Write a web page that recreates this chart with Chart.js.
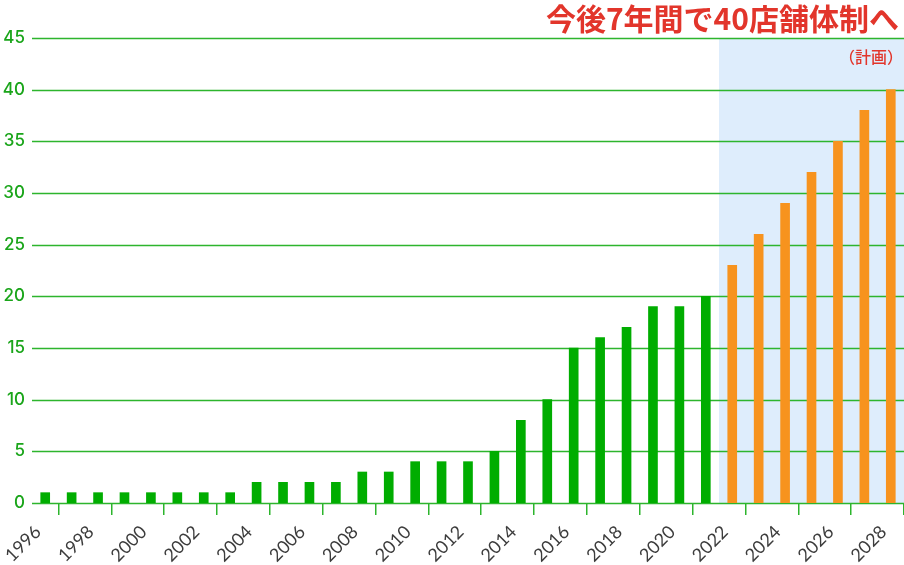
<!DOCTYPE html>
<html>
<head>
<meta charset="utf-8">
<script src="https://cdn.jsdelivr.net/npm/chart.js@4.4.0/dist/chart.umd.min.js"></script>
<style>
  html, body { margin: 0; padding: 0; background: #fff; }
  #wrap { width: 904px; height: 565px; position: relative; }
</style>
</head>
<body>
<div id="wrap"><canvas id="myChart"></canvas></div>
<script>
// 年 (実績・計画)
const years = [1996, 1997, 1998, 1999, 2000, 2001, 2002, 2003, 2004, 2005, 2006,
    2007, 2008, 2009, 2010, 2011, 2012, 2013, 2014, 2015, 2016, 2017, 2018,
    2019, 2020, 2021, 2022, 2023, 2024, 2025, 2026, 2027, 2028];
// 店舗数 実績 1996-2021
const actual = [1, 1, 1, 1, 1, 1, 1, 1, 2, 2, 2, 2, 3, 3, 4, 4, 4, 5, 8, 10,
    15, 16, 17, 19, 19, 20];
// 店舗数 計画 2022-2028
const plan = [23, 26, 29, 32, 35, 38, 40];

const yTicks = [0, 5, 10, 15, 20, 25, 30, 35, 40, 45];
const xTicks = [1996, 1998, 2000, 2002, 2004, 2006, 2008, 2010, 2012, 2014,
    2016, 2018, 2020, 2022, 2024, 2026, 2028];

const titleText = '今後7年間で40店舗体制へ';
const planText = '（計画）';
const planStart = 2022;

const green = '#00ad00';
const lineGreen = '#2db52d';
const orange = '#f7931e';
const red = '#e2352b';

const actualPts = actual.map(function (v, i) { return { x: years[i] + 0.5, y: v }; });
const planPts = plan.map(function (v, i) { return { x: years[actual.length + i] + 0.5, y: v }; });

const fondo = {
    id: 'fondo',
    beforeDatasetsDraw(chart) {
        const ctx = chart.ctx;
        const a = chart.chartArea;
        const x0 = chart.scales.x.getPixelForValue(planStart);
        ctx.save();
        ctx.fillStyle = '#deedfc';
        ctx.fillRect(x0, a.top, a.right - x0, a.bottom - a.top);
        ctx.restore();
    },
    afterDraw(chart) {
        const ctx = chart.ctx;
        const a = chart.chartArea;
        const x = chart.scales.x;
        ctx.save();
        ctx.fillStyle = red;
        ctx.textAlign = 'right';
        ctx.textBaseline = 'alphabetic';
        ctx.font = 'bold 30px "Noto Sans CJK JP"';
        ctx.fillText(titleText, 899, 30);
        ctx.font = '500 16px "Noto Sans CJK JP"';
        ctx.fillText(planText, 903, 63);
        ctx.restore();

        // 年のラベル (45度)
        ctx.save();
        ctx.fillStyle = '#3c3c3c';
        ctx.font = '18px Lato';
        ctx.textAlign = 'right';
        ctx.textBaseline = 'middle';
        xTicks.forEach(function (v) {
            const px = x.getPixelForValue(v);
            ctx.save();
            ctx.translate(px + 6, a.bottom + 26);
            ctx.rotate(-Math.PI / 4);
            ctx.fillText(String(v), 0, 0);
            ctx.restore();
        });
        ctx.restore();
    }
};

// grid の線は背景の上に描きたいので手動で
const grade = {
    id: 'grade',
    beforeDatasetsDraw(chart) {
        const ctx = chart.ctx;
        const a = chart.chartArea;
        const y = chart.scales.y;
        ctx.save();
        ctx.strokeStyle = lineGreen;
        ctx.lineWidth = 1.5;
        yTicks.forEach(function (t) {
            const py = Math.round(y.getPixelForValue(t)) + 0.5;
            ctx.beginPath();
            ctx.moveTo(a.left, py);
            ctx.lineTo(a.right, py);
            ctx.stroke();
        });
        ctx.restore();
    }
};

const data = {
    datasets: [{
        label: '実績',
        data: actualPts,
        backgroundColor: green,
        barThickness: 9,
        grouped: false
    }, {
        label: '計画',
        data: planPts,
        backgroundColor: orange,
        barThickness: 9,
        grouped: false
    }]
};

const config = {
    type: 'bar',
    data: data,
    options: {
        responsive: true,
        maintainAspectRatio: false,
        animation: false,
        layout: { padding: { top: 38, right: 0, left: 0, bottom: 0 } },
        plugins: {
            legend: { display: false },
            tooltip: { enabled: false }
        },
        scales: {
            x: {
                type: 'linear',
                min: 1996,
                max: 2029,
                offset: false,
                border: { display: false },
                grid: {
                    drawOnChartArea: false,
                    drawTicks: true,
                    tickLength: 12,
                    color: lineGreen,
                    lineWidth: 1.5
                },
                afterBuildTicks: function (axis) {
                    axis.ticks = xTicks.map(function (v) { return { value: v }; });
                },
                afterFit: function (axis) {
                    axis.height = 62;
                    axis.paddingLeft = 0;
                    axis.paddingRight = 0;
                },
                ticks: { display: false }
            },
            y: {
                min: 0,
                max: 45,
                border: { display: false },
                grid: { display: false, drawTicks: false },
                afterBuildTicks: function (axis) {
                    axis.ticks = yTicks.map(function (v) { return { value: v }; });
                },
                afterFit: function (axis) {
                    axis.width = 32;
                },
                ticks: {
                    padding: 7,
                    color: '#1aa51a',
                    font: { family: 'Inter', size: 17, weight: '500' }
                }
            }
        }
    },
    plugins: [fondo, grade]
};

const myChart = new Chart(document.getElementById('myChart'), config);
</script>
</body>
</html>
